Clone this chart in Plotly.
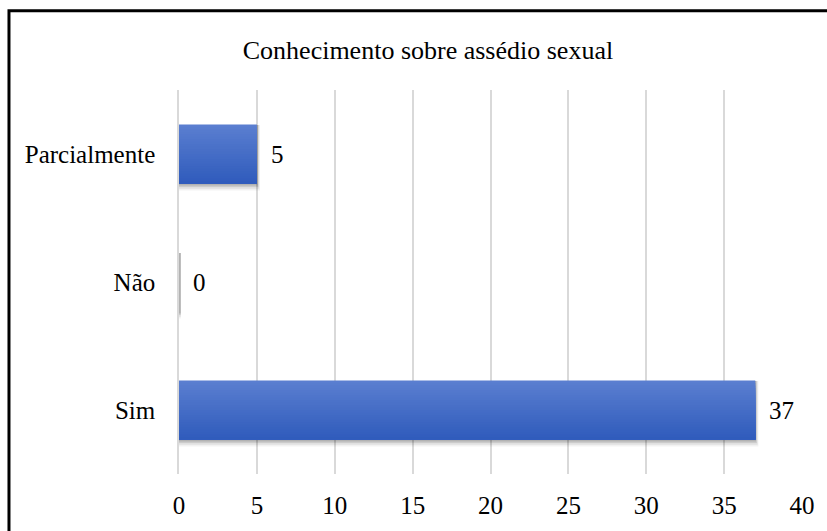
import plotly.graph_objects as go

# Survey answers: knowledge about sexual harassment
categories = ["Sim", "Não", "Parcialmente"]
values = [37, 0, 5]
x_ticks = [0, 5, 10, 15, 20, 25, 30, 35, 40]
title_text = "Conhecimento sobre assédio sexual"

FONT = "Liberation Serif"
BAR_H = 0.46          # bar thickness in category units
N_BANDS = 24          # steps used to fake the vertical colour gradient
TOP_RGB = (90, 126, 208)
BOT_RGB = (48, 92, 188)
GRID = "#d9d9d9"

fig = go.Figure()

# soft drop shadow under each bar
for k, (grow, alpha) in enumerate([(0.052, 0.05), (0.038, 0.07), (0.024, 0.09), (0.012, 0.12)]):
    fig.add_trace(go.Bar(
        y=categories, x=[v + 0.05 * (4 - k) if v else 0.12 for v in values],
        orientation="h",
        width=BAR_H + grow, offset=-BAR_H / 2 - grow - 0.004,
        marker=dict(color=f"rgba(0,0,0,{alpha})", line=dict(width=0)),
        hoverinfo="skip", showlegend=False,
    ))

# gradient: full bar in the light top colour, then darker bars that stop lower
for i in range(N_BANDS):
    t = i / (N_BANDS - 1)
    r, g, b = (round(TOP_RGB[c] + (BOT_RGB[c] - TOP_RGB[c]) * t) for c in range(3))
    h = BAR_H * (1 - i / N_BANDS)
    fig.add_trace(go.Bar(
        y=categories, x=values, orientation="h",
        width=h, offset=-BAR_H / 2,
        marker=dict(color=f"rgb({r},{g},{b})", line=dict(width=0)),
        hoverinfo="skip", showlegend=False,
    ))

# value labels just past the bar ends
for cat, val in zip(categories, values):
    fig.add_annotation(
        x=val, y=cat, text=str(val), showarrow=False,
        xanchor="left", yanchor="middle", xshift=12,
        font=dict(family=FONT, size=25, color="#000000"),
    )

# chart frame (continues past the right and bottom edges)
fig.add_shape(
    type="path", xref="paper", yref="paper",
    path="M -0.2729,-0.3 L -0.2729,1.2067 L 1.2,1.2067",
    line=dict(color="#000000", width=3),
)

fig.update_layout(
    width=827, height=531,
    margin=dict(l=179, r=25, t=90, b=54),
    paper_bgcolor="white", plot_bgcolor="white",
    barmode="overlay",
    font=dict(family=FONT, size=25, color="#000000"),
    title=dict(
        text=title_text, xref="container", yref="container",
        x=0.5175, y=0.906, xanchor="center", yanchor="middle",
        font=dict(family=FONT, size=26, color="#000000"),
    ),
    xaxis=dict(
        range=[0, 40], tickvals=x_ticks, ticktext=[str(v) for v in x_ticks],
        showgrid=True, gridcolor=GRID, gridwidth=1.5,
        zeroline=False, showline=False, ticks="", ticklabelstandoff=14,
        tickfont=dict(family=FONT, size=25),
    ),
    yaxis=dict(
        type="category", categoryorder="array", categoryarray=categories,
        range=[-0.5, 2.5], showgrid=False, zeroline=False,
        showline=True, linecolor=GRID, linewidth=1.5,
        ticks="", ticklabelstandoff=17,
        tickfont=dict(family=FONT, size=25),
    ),
)

fig.write_html("out.html")
